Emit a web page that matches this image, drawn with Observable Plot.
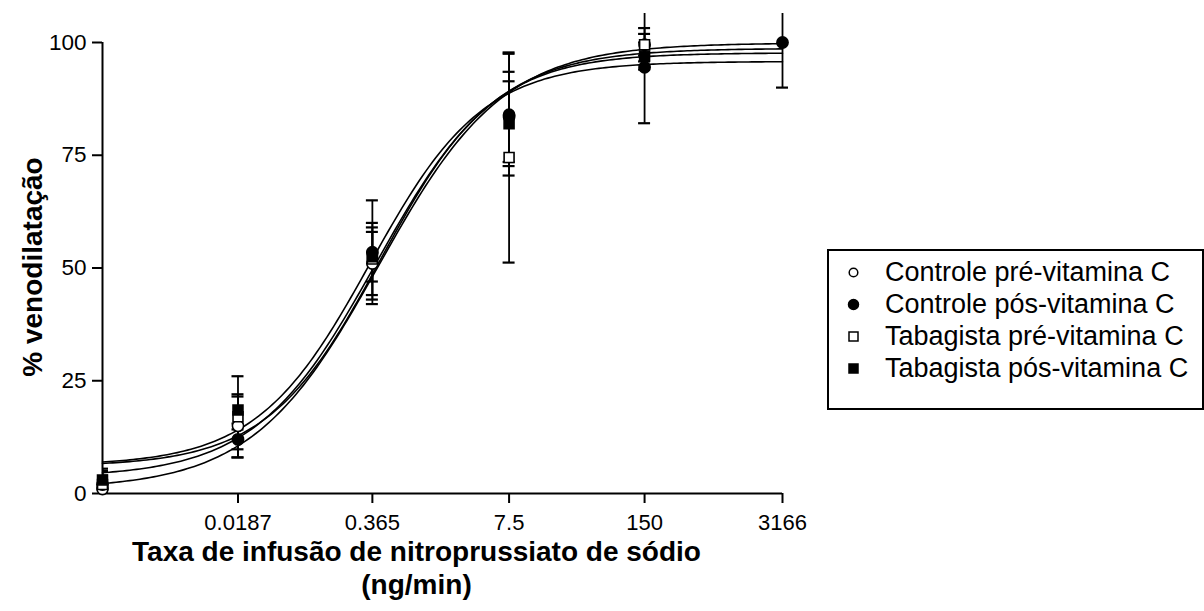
<!DOCTYPE html>
<html><head><meta charset="utf-8">
<script src="https://cdn.jsdelivr.net/npm/d3@7"></script>
<script src="https://cdn.jsdelivr.net/npm/@observablehq/plot@0.6"></script>
<style>
body{margin:0;background:#fff;font-family:"Liberation Sans",Arial,sans-serif;}
#wrap{position:relative;width:1204px;height:611px;overflow:hidden;}
#legend{position:absolute;left:827px;top:249px;width:373px;height:157px;border:2px solid #000;background:#fff;}
.row{position:absolute;left:0;height:32px;}
.row svg{position:absolute;left:17px;}
.row span{position:absolute;left:56px;font-size:27px;white-space:nowrap;line-height:32px;top:0;color:#000;}
#ytitle{position:absolute;left:33px;top:267px;transform:translate(-50%,-50%) rotate(-90deg);font-size:28px;font-weight:bold;white-space:nowrap;color:#000;}
</style></head><body>
<div id="wrap"><div id="chart"></div><div id="legend"></div><div id="ytitle">% venodilatação</div></div>
<script>
// doses (ng/min); first entry is the baseline position at the axis origin
const doses = [0.000935, 0.0187, 0.365, 7.5, 150, 3166];
const doseLabels = ["", "0.0187", "0.365", "7.5", "150", "3166"];
const yTicks = [0, 25, 50, 75, 100];
const seriesNames = ["Controle pré-vitamina C", "Controle pós-vitamina C", "Tabagista pré-vitamina C", "Tabagista pós-vitamina C"];
const seriesSymbols = ["circle", "circle", "square", "square"];
const seriesFilled = [false, true, false, true];

// means and SEM
const ctrlPreMean  = [1, 15, 51, 83.5, 99.5];
const ctrlPreSem   = [2, 7, 8, 10, 3.7];
const ctrlPosMean  = [2, 12, 53.5, 84, 94.5, 100];
const ctrlPosSem   = [2, 2.2, 11.5, 13.5, 12.4, 10];
const tabPreMean   = [2, 17, 52, 74.5, 99.5];
const tabPreSem    = [3, 9, 8, 23.3, 2.4];
const tabPosMean   = [3, 18.5, 52.5, 82, 97];
const tabPosSem    = [2.5, 3, 5.5, 9.4, 3];

// fitted sigmoid parameters (bottom, top, log10 EC50, Hill slope)
const fitBottom = [6.0, 1.0, 3.6, 6.2];
const fitTop    = [97.7, 99.9, 98.7, 95.8];
const fitLogEC50 = [-0.36, -0.38, -0.40, -0.46];
const fitHill   = [0.80, 0.72, 0.75, 0.80];

const means = [ctrlPreMean, ctrlPosMean, tabPreMean, tabPosMean];
const sems = [ctrlPreSem, ctrlPosSem, tabPreSem, tabPosSem];
const logDoses = doses.map(d => Math.log10(d));

const rows = [];
means.forEach((m, s) => m.forEach((v, i) => rows.push({
  series: seriesNames[s], symbol: seriesSymbols[s], fill: seriesFilled[s] ? "black" : "white",
  lx: logDoses[i], mean: v, lo: v - sems[s][i], hi: v + sems[s][i]
})));

const lx0 = logDoses[0], lx1 = logDoses[logDoses.length - 1];
const curve = [];
seriesNames.forEach((name, s) => {
  for (let k = 0; k <= 200; k++) {
    const lx = lx0 + (lx1 - lx0) * k / 200;
    const y = fitBottom[s] + (fitTop[s] - fitBottom[s]) / (1 + Math.pow(10, (fitLogEC50[s] - lx) * fitHill[s]));
    curve.push({series: name, lx, y});
  }
});

const doseLabel = t => doseLabels[d3.minIndex(logDoses, v => Math.abs(v - t))];

const chart = Plot.plot({
  width: 1204, height: 611,
  marginTop: 13, marginBottom: 118, marginLeft: 102, marginRight: 400,
  style: {fontFamily: '"Liberation Sans", Arial, sans-serif', fontSize: "22px", color: "black", background: "white"},
  x: {type: "linear", domain: [lx0, lx1], range: [102, 782]},
  y: {domain: [0, 100], range: [493, 42]},
  marks: [
    Plot.ruleX([lx0], {y1: yTicks[0], y2: yTicks[yTicks.length - 1], strokeWidth: 2}),
    Plot.ruleY([0], {x1: lx0, x2: lx1, strokeWidth: 2}),
    Plot.axisY({ticks: yTicks, tickSize: 10, tickPadding: 6, label: null, fontSize: 22.5, strokeWidth: 2}),
    Plot.axisX({ticks: logDoses.slice(1), tickFormat: doseLabel, tickSize: 10, tickPadding: 11, label: null, fontSize: 22, strokeWidth: 2}),
    Plot.line(curve, {x: "lx", y: "y", z: "series", stroke: "black", strokeWidth: 1.6}),
    Plot.ruleX(rows, {x: "lx", y1: "lo", y2: "hi", stroke: "black", strokeWidth: 1.8, clip: true}),
    Plot.ruleY(rows, {y: "hi", x1: "lx", x2: "lx", insetLeft: -6, insetRight: -6, stroke: "black", strokeWidth: 2.2, clip: true}),
    Plot.ruleY(rows, {y: "lo", x1: "lx", x2: "lx", insetLeft: -6, insetRight: -6, stroke: "black", strokeWidth: 2.2, clip: true}),
    Plot.dot(rows, {x: "lx", y: "mean", symbol: "symbol", fill: "fill", stroke: "black", strokeWidth: 1.6, r: 5.6}),
    Plot.text(["Taxa de infusão de nitroprussiato de sódio\n(ng/min)"], {frameAnchor: "bottom", lineAnchor: "top", dx: -37, dy: 44, fontSize: 28, fontWeight: "bold", lineHeight: 1.18, fill: "black"})
  ]
});
document.getElementById("chart").appendChild(chart);

// legend
const legend = document.getElementById("legend");
seriesNames.forEach((name, i) => {
  const row = document.createElement("div");
  row.className = "row";
  row.style.top = (5 + i * 32) + "px";
  row.style.width = "373px";
  const isSq = seriesSymbols[i] === "square";
  const fill = seriesFilled[i] ? "black" : "white";
  const shape = isSq
    ? `<rect x="3" y="3" width="9" height="9" fill="${fill}" stroke="black" stroke-width="1.5"/>`
    : `<circle cx="7.5" cy="7.5" r="${seriesFilled[i] ? 5 : 4.3}" fill="${fill}" stroke="black" stroke-width="1.5"/>`;
  row.innerHTML = `<svg width="15" height="15" style="top:8.5px">${shape}</svg><span>${name}</span>`;
  legend.appendChild(row);
});
</script>
</body></html>
